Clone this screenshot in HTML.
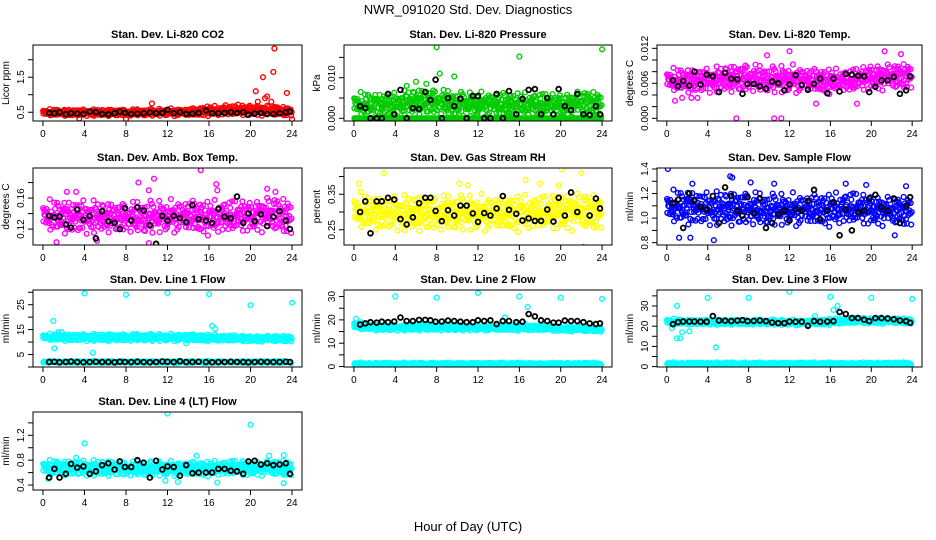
<!DOCTYPE html>
<html><head><meta charset="utf-8"><style>
body{margin:0;background:#fff}
svg{display:block;font-family:"Liberation Sans",sans-serif}
</style></head><body>
<svg id="fig" width="936" height="540" viewBox="0 0 936 540">
<text x="468" y="14" text-anchor="middle" font-size="13">NWR_091020  Std. Dev. Diagnostics</text>
<text x="468" y="531" text-anchor="middle" font-size="13">Hour of Day (UTC)</text>
</svg>
<script>
// shared sample hours for black points
const blackHours=[0.6,1.1,1.6,2.2,2.7,3.3,3.9,4.5,5.1,5.7,6.3,6.9,7.4,7.9,8.5,9.1,9.7,10.3,10.9,11.5,12.0,12.6,13.2,13.8,14.4,15.0,15.7,16.3,16.9,17.5,18.1,18.7,19.3,19.8,20.4,21.0,21.6,22.2,22.8,23.4,23.8];
const bandHours=[0,2,4,6,8,10,12,14,16,18,20,22,24];
const xTicks=[0,4,8,12,16,20,24];

// CO2
const co2Lo=[0.38,0.38,0.38,0.38,0.38,0.38,0.38,0.38,0.38,0.38,0.38,0.38,0.38];
const co2Hi=[0.6,0.6,0.6,0.6,0.6,0.6,0.62,0.62,0.7,0.7,0.75,0.72,0.65];
const co2OutH=[10.5,20.5,20.7,21.2,21.4,21.6,22.2,22.3,22.0,23.5,24,3.5,8,18.8,17.6];
const co2OutV=[0.75,1.1,0.8,1.5,0.9,0.95,1.65,2.32,0.8,1.05,0.3,0.32,0.3,0.72,0.7];
const co2K=[0.48,0.47,0.5,0.44,0.47,0.46,0.45,0.52,0.5,0.45,0.44,0.47,0.52,0.48,0.45,0.46,0.47,0.49,0.47,0.48,0.57,0.47,0.5,0.45,0.46,0.48,0.55,0.47,0.47,0.48,0.5,0.48,0.5,0.43,0.46,0.48,0.45,0.45,0.47,0.5,0.52];
// Pressure
const presLo=[0,0,0,0.0005,0.0005,0,0,0,0,0,0,0,0];
const presHi=[0.0068,0.0068,0.007,0.0078,0.0078,0.007,0.0068,0.007,0.0068,0.0068,0.0068,0.0075,0.007];
const presBaseLo=[0,0,0,0,0,0,0,0,0,0,0,0,0];
const presBaseHi=[0,0,0,0,0,0,0,0,0,0,0,0,0];
const presOutH=[8,16,24,8.3,9.7,6,5.1,7];
const presOutV=[0.0175,0.0152,0.017,0.011,0.0103,0.009,0.008,0.0085];
const presK=[0.003,0.0025,0,0,0,0.006,0.001,0.007,0,0.0025,0.0023,0.0065,0.0045,0.0095,0,0.005,0.003,0.0048,0,0.0055,0.0055,0,0,0.006,0,0.0067,0.001,0.0048,0.007,0.0072,0.001,0.005,0.001,0.0072,0.003,0.002,0.006,0.001,0.0008,0.003,0.001];
// Temp
const tempLo=[0.0042,0.004,0.004,0.0042,0.0042,0.004,0.004,0.0042,0.004,0.004,0.0045,0.0045,0.0048];
const tempHi=[0.0088,0.009,0.009,0.0095,0.0098,0.0092,0.0095,0.009,0.0088,0.0088,0.0098,0.0098,0.0098];
const tempOutH=[6.8,10.5,11.2,18.6,12,2.4,3,14.6,0.8,1.5,21.3,22.9,9.8];
const tempOutV=[0,0,0,0.0025,0.0115,0.0035,0.0035,0.0025,0.003,0.0035,0.0115,0.011,0.0108];
const tempK=[0.0065,0.0055,0.0064,0.0056,0.008,0.0058,0.0075,0.0072,0.0045,0.0078,0.0068,0.0067,0.0042,0.0059,0.0059,0.0055,0.0051,0.0063,0.006,0.0048,0.0058,0.0074,0.0057,0.0049,0.0059,0.0068,0.0043,0.0068,0.0046,0.0076,0.0075,0.0073,0.0072,0.0045,0.0054,0.0065,0.0065,0.0071,0.0042,0.0048,0.0072];
// Amb box temp
const ambLo=[0.113,0.11,0.11,0.113,0.113,0.11,0.113,0.113,0.11,0.11,0.113,0.113,0.11];
const ambHi=[0.16,0.162,0.162,0.158,0.158,0.16,0.16,0.162,0.16,0.162,0.162,0.167,0.162];
const ambOutH=[15.2,10.2,9.2,10.7,16.8,1.3,10.2,5.2,16.7,2.3,3.2,21.6,22.4];
const ambOutV=[0.196,0.17,0.18,0.185,0.17,0.103,0.102,0.105,0.178,0.168,0.168,0.172,0.168];
const ambK=[0.137,0.135,0.136,0.126,0.122,0.145,0.132,0.137,0.108,0.143,0.13,0.128,0.12,0.147,0.131,0.148,0.144,0.125,0.101,0.137,0.131,0.137,0.134,0.129,0.151,0.133,0.131,0.128,0.146,0.136,0.134,0.162,0.128,0.14,0.13,0.139,0.124,0.136,0.143,0.131,0.12];
// RH
const rhLo=[0.24,0.24,0.24,0.24,0.24,0.24,0.24,0.24,0.24,0.24,0.24,0.24,0.245];
const rhHi=[0.365,0.355,0.355,0.355,0.355,0.355,0.355,0.355,0.355,0.355,0.365,0.365,0.355];
const rhOutH=[2.9,20.1,22,10.2,16.6,0.5,11,18,19.8];
const rhOutV=[0.41,0.42,0.41,0.38,0.39,0.38,0.375,0.38,0.375];
const rhK=[0.3,0.33,0.24,0.33,0.33,0.34,0.335,0.28,0.265,0.285,0.325,0.34,0.34,0.303,0.274,0.305,0.29,0.318,0.318,0.296,0.272,0.297,0.29,0.31,0.345,0.306,0.295,0.276,0.282,0.275,0.275,0.307,0.273,0.34,0.29,0.355,0.3,0.2,0.29,0.338,0.31];
// Sample flow
const flowLo=[0.93,0.92,0.92,0.92,0.92,0.92,0.92,0.92,0.92,0.92,0.92,0.92,0.92];
const flowHi=[1.24,1.26,1.24,1.24,1.24,1.22,1.22,1.22,1.22,1.24,1.22,1.2,1.2];
const flowOutH=[0.1,6.2,6.4,4.6,22.3,1.2,2.3,2.5,8.2,10.5,17.5,19.5,23.4];
const flowOutV=[1.4,1.34,1.33,0.82,0.86,0.84,0.84,1.28,1.29,1.28,1.28,1.27,1.26];
const flowK=[1.12,1.15,0.92,1.2,1.14,1.09,1.07,1.18,0.96,1.25,1.18,1.06,1.02,1.17,1.04,1.16,0.92,0.96,1.03,1.06,0.98,1.07,1.06,1.14,1.23,0.99,1.06,1.13,0.86,1.07,0.9,1.05,1.06,1.16,1.19,1.09,1.06,1.16,0.96,1.1,1.17];
// Line 1
const l1Lo=[10.5,10.2,10.2,10.2,10.2,10.2,10.2,10.2,10.2,10,10,10,10];
const l1Hi=[13.5,13.5,13.5,13.5,13.5,13.5,13.5,13.5,13.2,13,12.8,12.8,12.8];
const l1BaseLo=[1.5,1.5,1.5,1.5,1.5,1.5,1.5,1.5,1.5,1.5,1.5,1.5,1.5];
const l1BaseHi=[2.5,2.5,2.5,2.5,2.5,2.5,2.5,2.5,2.5,2.5,2.5,2.5,2.5];
const l1OutH=[4,8,12,16,20,24,1,1.1,4.8,16.3,16.6,13.8,1.5,1.8];
const l1OutV=[29.5,29,29.7,29.2,24.8,25.8,18.5,7.5,5.7,16.5,15.3,9.5,14,14];
const l1K=[2,2.1,1.9,2,2.2,2,1.9,2,2.1,2,2,1.9,2.1,2,2,2.1,2,1.9,2,2.2,2.1,2,2.3,2,2,2.1,2,1.9,2,2,2.1,2,2,1.9,2,2.1,2,2,2,2.1,2];
// Line 2
const l2Lo=[15.5,15.2,15.2,15.2,15.2,15.2,15.2,15.2,15.2,15,15,14.8,14.8];
const l2Hi=[19.5,18.5,18,18.5,18.5,18,18,18,18.5,18,17.5,17.5,17];
const l2BaseLo=[0.6,0.6,0.6,0.6,0.6,0.6,0.6,0.6,0.6,0.6,0.6,0.6,0.6];
const l2BaseHi=[1.8,1.8,1.8,1.8,1.8,1.8,1.8,1.8,1.8,1.8,1.8,1.8,1.8];
const l2OutH=[4,8,12,16,20,24,16.8,0.2,14.6];
const l2OutV=[30,29.5,31.5,30,29.5,29,25.5,20.5,21];
const l2K=[18,18.5,19,18.8,19.2,19,19.3,21,19.5,19.5,20,20,19.8,19.2,19.3,19.7,19.5,19.2,19,19,19.8,19.5,19.8,18.2,19.5,19.5,19,19.2,22.5,21.5,19.8,19.5,18.8,18.8,19.7,19.5,19.5,19,18.5,18.2,18.5];
// Line 3
const l3Lo=[20.5,20.5,20.5,20.5,20.5,20.5,20.3,20.3,20.5,21,21,21,21];
const l3Hi=[24,23.5,23.5,23.5,23.5,23.5,23.3,23.3,24,24.5,24.5,24.5,24];
const l3BaseLo=[0.8,0.8,0.8,0.8,0.8,0.8,0.8,0.8,0.8,0.8,0.8,0.8,0.8];
const l3BaseHi=[2.2,2.2,2.2,2.2,2.2,2.2,2.2,2.2,2.2,2.2,2.2,2.2,2.2];
const l3OutH=[4,8,12,16,20,24,1,1,1.3,1.5,2.2,4.8,0.5,16.3,16.7,14.5];
const l3OutV=[34,34,37,34.5,34,33.5,30,14,14,17,17.5,9.5,19,28,30,25];
const l3K=[21,22,22.3,22.3,22.3,22.2,22.2,25,22.8,22.7,22.5,22.8,23,22.5,22.6,22.8,22.5,21.8,21.5,21.5,22.3,22.2,22.2,20.2,22.5,22.2,22.3,22.5,27,26,24,24,23.2,22.5,24,24,23.8,23.4,22.8,22.5,21.7];
// Line 4
const l4Lo=[0.53,0.53,0.53,0.53,0.53,0.53,0.53,0.53,0.53,0.53,0.53,0.53,0.53];
const l4Hi=[0.82,0.82,0.82,0.82,0.8,0.8,0.8,0.8,0.8,0.82,0.82,0.82,0.82];
const l4OutH=[12,20,4,14.8,23.2,21.8,23.2,16.8,3.2,0.5,11.8,13];
const l4OutV=[1.55,1.37,1.07,0.87,0.88,0.87,0.43,0.44,0.84,0.5,0.47,0.45];
const l4K=[0.52,0.66,0.52,0.58,0.74,0.68,0.7,0.58,0.62,0.72,0.75,0.65,0.78,0.69,0.69,0.8,0.76,0.52,0.79,0.65,0.7,0.69,0.55,0.72,0.59,0.6,0.6,0.6,0.66,0.66,0.63,0.62,0.58,0.78,0.79,0.73,0.75,0.72,0.73,0.75,0.58];

const tk=(a,b,s)=>{const r=[];for(let v=a;v<=b+1e-9;v+=s)r.push(+v.toFixed(6));return r;};
const panels=[
 {id:'co2',title:'Stan. Dev. Li-820 CO2',ylab:'Licor ppm',col:0,row:0,color:'#ff0000',yr:[0.25,2.42],ticks:[0.5,1,1.5,2],labs:[0.5,1.5],fmt:1,bands:[[co2Lo,co2Hi]],oh:co2OutH,ov:co2OutV,k:co2K},
 {id:'pressure',title:'Stan. Dev. Li-820 Pressure',ylab:'kPa',col:1,row:0,color:'#00cc00',yr:[-0.00066,0.01805],ticks:[0,0.005,0.01,0.015],labs:[0,0.01],fmt:3,bands:[[presLo,presHi],[presBaseLo,presBaseHi]],oh:presOutH,ov:presOutV,k:presK},
 {id:'temp',title:'Stan. Dev. Li-820 Temp.',ylab:'degrees C',col:2,row:0,color:'#ff00ff',yr:[-0.00046,0.01257],ticks:tk(0,0.012,0.002),labs:[0,0.006,0.012],fmt:3,bands:[[tempLo,tempHi]],oh:tempOutH,ov:tempOutV,k:tempK},
 {id:'amb-temp',title:'Stan. Dev. Amb. Box Temp.',ylab:'degrees C',col:0,row:1,color:'#ff00ff',yr:[0.0995,0.1988],ticks:[0.12,0.14,0.16,0.18],labs:[0.12,0.16],fmt:2,bands:[[ambLo,ambHi]],oh:ambOutH,ov:ambOutV,k:ambK},
 {id:'rh',title:'Stan. Dev. Gas Stream RH',ylab:'percent',col:1,row:1,color:'#ffff00',yr:[0.207,0.424],ticks:[0.25,0.3,0.35,0.4],labs:[0.25,0.35],fmt:2,bands:[[rhLo,rhHi]],oh:rhOutH,ov:rhOutV,k:rhK},
 {id:'sample-flow',title:'Stan. Dev. Sample Flow',ylab:'ml/min',col:2,row:1,color:'#0000ff',yr:[0.781,1.408],ticks:tk(0.8,1.4,0.1),labs:[0.8,1,1.2,1.4],fmt:1,bands:[[flowLo,flowHi]],oh:flowOutH,ov:flowOutV,k:flowK},
 {id:'line1',title:'Stan. Dev. Line 1 Flow',ylab:'ml/min',col:0,row:2,color:'#00ffff',yr:[0,30.9],ticks:tk(0,30,5),labs:[5,15,25],fmt:0,bands:[[l1Lo,l1Hi],[l1BaseLo,l1BaseHi]],oh:l1OutH,ov:l1OutV,k:l1K},
 {id:'line2',title:'Stan. Dev. Line 2 Flow',ylab:'ml/min',col:1,row:2,color:'#00ffff',yr:[-0.2,32.8],ticks:tk(0,30,5),labs:[0,10,20,30],fmt:0,bands:[[l2Lo,l2Hi],[l2BaseLo,l2BaseHi]],oh:l2OutH,ov:l2OutV,k:l2K},
 {id:'line3',title:'Stan. Dev. Line 3 Flow',ylab:'ml/min',col:2,row:2,color:'#00ffff',yr:[-0.2,37.9],ticks:tk(0,35,5),labs:[0,10,20,30],fmt:0,bands:[[l3Lo,l3Hi],[l3BaseLo,l3BaseHi]],oh:l3OutH,ov:l3OutV,k:l3K},
 {id:'line4',title:'Stan. Dev. Line 4 (LT) Flow',ylab:'ml/min',col:0,row:3,color:'#00ffff',yr:[0.32,1.575],ticks:tk(0.4,1.4,0.2),labs:[0.4,0.8,1.2],fmt:1,bands:[[l4Lo,l4Hi]],oh:l4OutH,ov:l4OutV,k:l4K}
];
const colX=[[33,302],[344,612],[657,922]];
const rowY=[[45,121],[168,245],[290,367],[412,490]];
const NS='http://www.w3.org/2000/svg';
const fig=document.getElementById('fig');
function mk(tag,attrs,parent){const e=document.createElementNS(NS,tag);for(const a in attrs)e.setAttribute(a,attrs[a]);parent.appendChild(e);return e;}
function interp(arr,h){const i=Math.min(11,Math.floor(h/2));const t=(h-bandHours[i])/2;return arr[i]+(arr[i+1]-arr[i])*t;}
// van der Corput radical inverse for scattered placement within a band
function rad(i,b){let f=1,r=0;while(i>0){f/=b;r+=f*(i%b);i=Math.floor(i/b);}return r;}
panels.forEach(p=>{
 const [x0,x1]=colX[p.col],[y0,y1]=rowY[p.row];
 const xs=h=>x0+(h+0.96)/25.92*(x1-x0);
 const ys=v=>y1-(v-p.yr[0])/(p.yr[1]-p.yr[0])*(y1-y0);
 const g=mk('g',{},fig);
 
 
 const t=mk('text',{x:(x0+x1)/2,y:y0-7,'text-anchor':'middle','font-size':'11','font-weight':'bold'},g);t.textContent=p.title;
 
 
 const clip=mk('clipPath',{id:'c-'+p.id},g);mk('rect',{x:x0,y:y0,width:x1-x0,height:y1-y0},clip);
 const pts=mk('g',{'clip-path':'url(#c-'+p.id+')',fill:'none','stroke-width':'1.4'},g);
 
 
 p.bands.forEach(([lo,hi],bi)=>{
  const n=bi===0?520:260;
  for(let i=1;i<=n;i++){
   const h=rad(i,2)*24;
   const f=(rad(i,3)+rad(i,5))/2;
   const v=interp(lo,h)+(interp(hi,h)-interp(lo,h))*f;
   mk('circle',{cx:xs(h).toFixed(1),cy:ys(v).toFixed(1),r:2.4,stroke:p.color},pts);
  }
 });
 p.oh.forEach((h,i)=>mk('circle',{cx:xs(h),cy:ys(p.ov[i]),r:2.4,stroke:p.color},pts));
 p.k.forEach((v,i)=>mk('circle',{cx:xs(blackHours[i]),cy:ys(v),r:2.4,stroke:'#000','stroke-width':'1.8'},pts));
 mk('rect',{x:x0,y:y0,width:x1-x0,height:y1-y0,fill:'none',stroke:'#000','stroke-width':'1'},g);
 xTicks.forEach(h=>{const x=xs(h);mk('line',{x1:x,x2:x,y1:y1,y2:y1+5,stroke:'#000'},g);
  const l=mk('text',{x:x,y:y1+16,'text-anchor':'middle','font-size':'10'},g);l.textContent=h;});
 p.ticks.forEach(v=>{const y=ys(v);mk('line',{x1:x0-5,x2:x0,y1:y,y2:y,stroke:'#000'},g);});
 p.labs.forEach(v=>{const y=ys(v);const l=mk('text',{x:x0-9,y:y,'text-anchor':'middle','font-size':'10',transform:`rotate(-90 ${x0-9} ${y})`},g);l.textContent=v.toFixed(p.fmt);});
 const yl=mk('text',{x:x0-24,y:(y0+y1)/2,'text-anchor':'middle','font-size':'10',transform:`rotate(-90 ${x0-24} ${(y0+y1)/2})`},g);yl.textContent=p.ylab;
 
 
});
</script>
</body></html>
